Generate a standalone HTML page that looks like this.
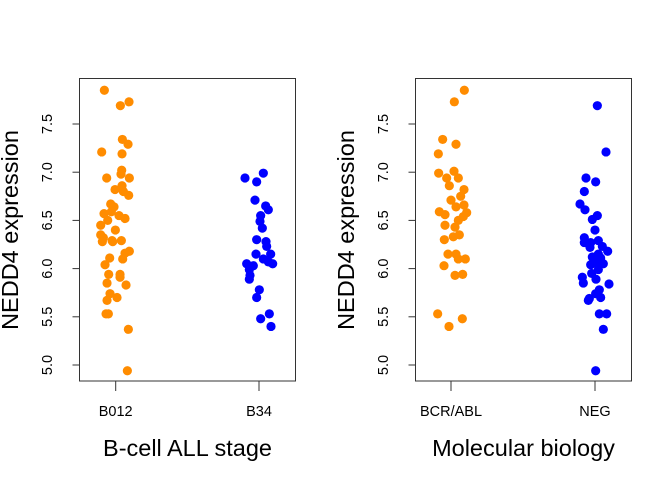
<!DOCTYPE html>
<html><head><meta charset="utf-8"><style>
html,body{margin:0;padding:0;background:#fff}
svg text{font-family:"Liberation Sans",Arial,sans-serif;fill:#000}
</style></head><body>
<svg id="chart" width="672" height="480" viewBox="0 0 672 480" xmlns="http://www.w3.org/2000/svg"></svg>
<script>
// Panel 1: B-cell ALL stage
const p1Categories = ["B012", "B34"];
const p1ValuesA = [7.85,7.69,7.73,7.34,7.29,7.21,7.19,7.02,6.98,6.94,6.94,6.82,6.86,6.80,6.76,6.67,6.64,6.59,6.57,6.55,6.52,6.50,6.45,6.40,6.35,6.32,6.28,6.29,6.29,6.28,6.18,6.16,6.10,6.11,6.04,5.94,5.94,5.91,5.83,5.85,5.74,5.67,5.70,5.53,5.53,5.37,4.94];
const p1JitterA = [-34,14,40,20,37,-42,19,18,16,-27,41,-2,19,23,39,-15,-5,-13,-35,10,28,-24,-45,-1,-45,-37,-40,-11,17,-9,41,28,21,-18,-32,-21,13,13,31,-26,-17,-26,4,-22,-29,38,35];
const p1ValuesB = [6.99,6.94,6.90,6.71,6.65,6.61,6.55,6.49,6.42,6.30,6.28,6.23,6.15,6.15,6.10,6.07,6.05,6.03,6.05,5.99,5.93,5.89,5.78,5.70,5.48,5.53,5.40];
const p1JitterB = [13,-42,-7,-12,20,28,5,3,10,-7,21,23,-9,35,13,28,-37,-17,41,-29,-27,-29,1,-7,5,31,36];
// Panel 2: Molecular biology
const p2Categories = ["BCR/ABL", "NEG"];
const p2ValuesA = [7.85,7.73,7.34,7.29,7.19,6.99,7.01,6.94,6.94,6.86,6.82,6.71,6.75,6.66,6.64,6.59,6.56,6.58,6.54,6.50,6.45,6.43,6.33,6.35,6.30,6.15,6.15,6.10,6.10,6.03,5.93,5.94,5.53,5.48,5.40];
const p2JitterA = [40,10,-25,15,-38,-37,9,-13,22,-5,39,0,29,39,15,-35,-18,47,37,22,-18,12,7,25,-20,-9,15,22,43,-21,12,35,-40,34,-6];
const p2ValuesB = [7.69,7.21,6.94,6.90,6.80,6.67,6.61,6.55,6.51,6.40,6.32,6.29,6.27,6.27,6.23,6.22,6.18,6.15,6.12,6.11,6.08,6.05,6.05,6.04,5.99,5.91,5.95,5.89,5.85,5.84,5.78,5.74,5.69,5.67,5.70,5.53,5.53,5.37,4.94];
const p2JitterB = [7,33,-27,2,-32,-45,-30,7,-8,0,-32,10,-32,-13,22,-15,38,10,-8,17,0,25,5,-13,10,-38,-10,3,-35,42,13,2,-17,-20,17,13,35,25,2];
const yTicks = [5.0, 5.5, 6.0, 6.5, 7.0, 7.5];

const svg = document.getElementById('chart');
const NS = 'http://www.w3.org/2000/svg';
function mk(tag, attrs, parent) {
  const e = document.createElementNS(NS, tag);
  for (const k in attrs) e.setAttribute(k, attrs[k]);
  (parent || svg).appendChild(e);
  return e;
}
const yScale = v => 365 - (v - 5.0) * 96.4;

function panel(name, boxL, boxR, c1, c2, cats, vA, jA, vB, jB, xTitle, yTitleX, tickLabX) {
  const g = mk('g', {});
  
  
  const xScale = (ci, j) => (ci === 0 ? c1 : c2) + j / 3;
  const box = mk('rect', {x: boxL, y: 78.5, width: boxR - boxL, height: 302.5, fill: 'none', stroke: '#333', 'stroke-width': 1}, g);
  
  
  yTicks.forEach(t => {
    const y = yScale(t);
    const tl = mk('line', {x1: boxL - 7, x2: boxL, y1: y, y2: y, stroke: '#333'}, g);
    
    
    const tx = mk('text', {x: tickLabX, y: y, 'font-size': 14.5, 'text-anchor': 'middle', transform: `rotate(-90 ${tickLabX} ${y})`}, g);
    tx.textContent = t.toFixed(1);
    
    
  });
  cats.forEach((c, i) => {
    const x = i === 0 ? c1 : c2;
    const tl = mk('line', {x1: x, x2: x, y1: 381, y2: 391, stroke: '#333'}, g);
    
    
    const tx = mk('text', {x: x, y: 416, 'font-size': 14.5, 'text-anchor': 'middle'}, g);
    tx.textContent = c;
    
    
  });
  const xt = mk('text', {x: (boxL + boxR) / 2, y: 456, 'font-size': 23.5, 'text-anchor': 'middle'}, g);
  xt.textContent = xTitle;
  
  
  const yt = mk('text', {x: yTitleX, y: 230, 'font-size': 23.5, 'text-anchor': 'middle', transform: `rotate(-90 ${yTitleX} 230)`}, g);
  yt.textContent = 'NEDD4 expression';
  
  
  vA.forEach((v, i) => {
    const p = mk('circle', {cx: xScale(0, jA[i]), cy: yScale(v), r: 4.6, fill: '#FF8C00'}, g);
    
    
  });
  vB.forEach((v, i) => {
    const p = mk('circle', {cx: xScale(1, jB[i]), cy: yScale(v), r: 4.6, fill: '#0000FF'}, g);
    
    
  });
}
panel('panel-bcell-stage', 79.5, 295.5, 115.7, 259, p1Categories, p1ValuesA, p1JitterA, p1ValuesB, p1JitterB, 'B-cell ALL stage', 18, 52);
panel('panel-molecular-biology', 415.5, 631.5, 451, 595, p2Categories, p2ValuesA, p2JitterA, p2ValuesB, p2JitterB, 'Molecular biology', 354, 388);
</script>
</body></html>
